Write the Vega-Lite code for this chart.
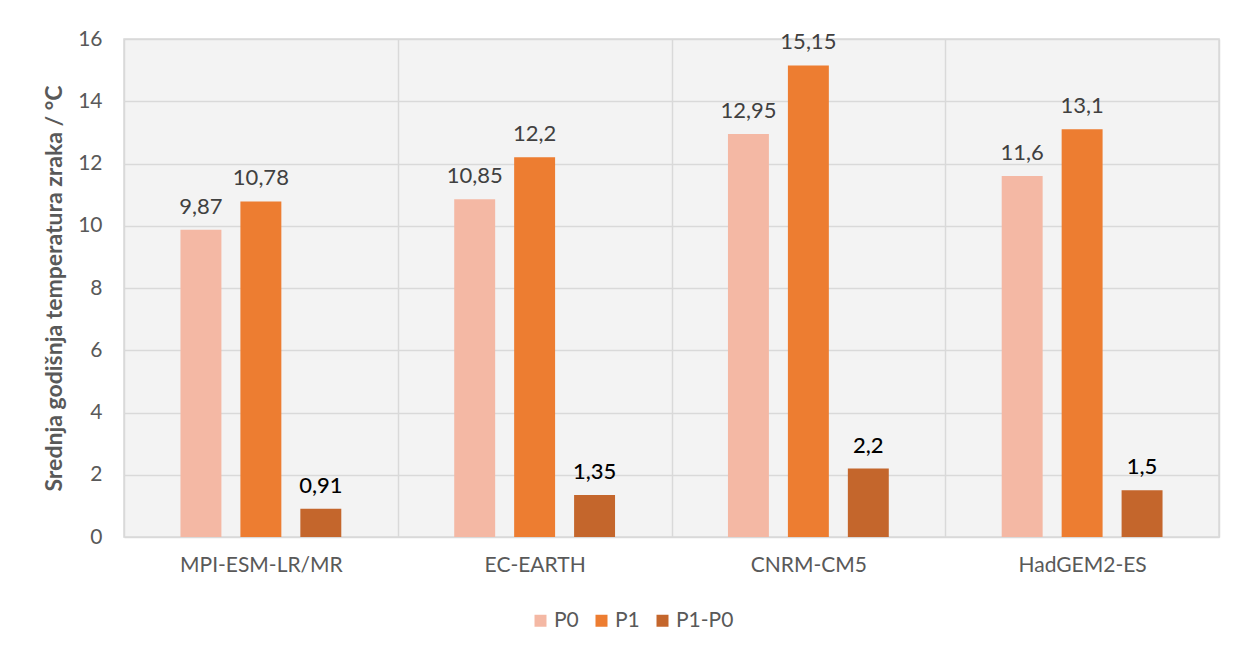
{
  "$schema": "https://vega.github.io/schema/vega-lite/v6.json",
  "width": 1095,
  "height": 498,
  "autosize": {"type": "none"},
  "padding": {"left": 124, "top": 39, "right": 20, "bottom": 115},
  "background": "white",
  "config": {
    "font": "Lato",
    "locale": {"number": {"decimal": ",", "thousands": ".", "grouping": [3], "currency": ["", " €"]}},
    "view": {"fill": "#F3F3F3", "stroke": "#D9D9D9", "strokeWidth": 1.5}
  },
  "data": {
    "values": [
      {"model": "MPI-ESM-LR/MR", "series": "P0", "value": 9.87},
      {"model": "MPI-ESM-LR/MR", "series": "P1", "value": 10.78},
      {"model": "MPI-ESM-LR/MR", "series": "P1-P0", "value": 0.91},
      {"model": "EC-EARTH", "series": "P0", "value": 10.85},
      {"model": "EC-EARTH", "series": "P1", "value": 12.2},
      {"model": "EC-EARTH", "series": "P1-P0", "value": 1.35},
      {"model": "CNRM-CM5", "series": "P0", "value": 12.95},
      {"model": "CNRM-CM5", "series": "P1", "value": 15.15},
      {"model": "CNRM-CM5", "series": "P1-P0", "value": 2.2},
      {"model": "HadGEM2-ES", "series": "P0", "value": 11.6},
      {"model": "HadGEM2-ES", "series": "P1", "value": 13.1},
      {"model": "HadGEM2-ES", "series": "P1-P0", "value": 1.5}
    ]
  },
  "encoding": {
    "x": {
      "field": "model", "type": "nominal", "sort": null,
      "scale": {"paddingInner": 0, "paddingOuter": 0},
      "axis": {
        "title": null, "labelAngle": 0, "labelFontSize": 21, "labelColor": "#595959",
        "labelPadding": 17, "ticks": false, "domain": false,
        "grid": true, "tickBand": "extent", "gridColor": "#D9D9D9", "gridWidth": 1.5
      }
    },
    "xOffset": {
      "field": "series", "type": "nominal", "sort": ["P0", "P1", "P1-P0"],
      "scale": {"paddingInner": 0.317, "paddingOuter": 0.942}
    },
    "y": {
      "field": "value", "type": "quantitative",
      "scale": {"domain": [0, 16], "nice": false},
      "axis": {
        "values": [0, 2, 4, 6, 8, 10, 12, 14, 16],
        "title": "Srednja godišnja temperatura zraka / °C",
        "titleFontSize": 23, "titleFontWeight": "bold", "titleColor": "#595959", "titlePadding": 11,
        "labelFontSize": 21, "labelColor": "#595959", "labelPadding": 22,
        "ticks": false, "domain": false, "gridColor": "#D9D9D9", "gridWidth": 1.5
      }
    }
  },
  "layer": [
    {
      "mark": {"type": "bar"},
      "encoding": {
        "color": {
          "field": "series", "type": "nominal",
          "scale": {"domain": ["P0", "P1", "P1-P0"], "range": ["#F4B8A4", "#ED7D31", "#C4662C"]},
          "legend": {
            "title": null, "orient": "none", "direction": "horizontal",
            "legendX": 406, "legendY": 571,
            "symbolType": "square", "symbolSize": 144, "symbolStrokeWidth": 0,
            "labelFontSize": 21, "labelColor": "#595959", "labelOffset": 3, "columnPadding": 12
          }
        }
      }
    },
    {
      "transform": [{"filter": "datum.series !== 'P1-P0'"}],
      "mark": {"type": "text", "baseline": "bottom", "dy": -11, "fontSize": 22, "color": "#404040"},
      "encoding": {"text": {"field": "value", "type": "quantitative", "format": ".2~f"}}
    },
    {
      "transform": [{"filter": "datum.series === 'P1-P0'"}],
      "mark": {"type": "text", "baseline": "bottom", "dy": -11, "fontSize": 22, "color": "#000000", "fontWeight": 500},
      "encoding": {"text": {"field": "value", "type": "quantitative", "format": ".2~f"}}
    }
  ]
}
